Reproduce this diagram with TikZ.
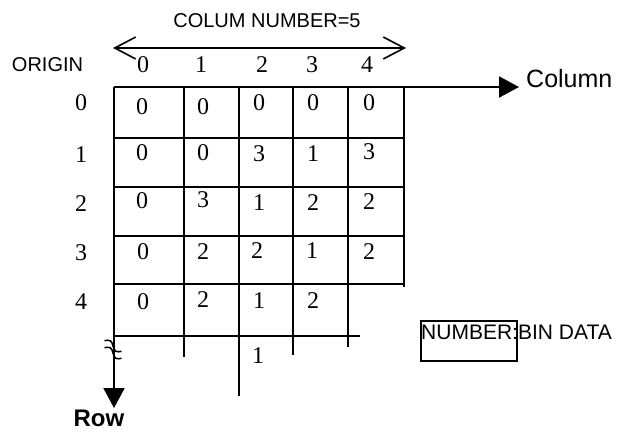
\documentclass[tikz,border=0pt]{standalone}
\usepackage{fontspec}
\setmainfont{Liberation Serif}
\newfontfamily\arialf{Liberation Sans}
\usetikzlibrary{arrows.meta}
\begin{document}
\begin{tikzpicture}[x=1pt,y=-1pt,
  gridline/.style={line width=2pt},
  num/.style={inner sep=0pt,font=\fontsize{24}{26}\selectfont},
  lbl/.style={inner sep=0pt,font=\arialf\fontsize{20}{22}\selectfont},
  biglbl/.style={inner sep=0pt,font=\arialf\fontsize{25}{27}\selectfont},
  axisarrow/.style={line width=2pt,-{Triangle[length=20pt,width=21pt]}},
  spanarrow/.style={line width=1.6pt,{Straight Barb[length=21pt,width=22pt]}-{Straight Barb[length=21pt,width=22pt]}}]
\useasboundingbox (0,0) rectangle (617,432);
% grid coordinates
\coordinate (o) at (114,87);
\coordinate (colend) at (519,87);
\coordinate (rowend) at (114,408);
% top span arrow
\coordinate (sl) at (113,48);
\coordinate (sr) at (406,48);
\draw[spanarrow] (sl) -- (sr);
\node[lbl,anchor=base] (title) at (267,27) {COLUM NUMBER=5};
\node[lbl,anchor=base] (origin) at (47.5,71) {ORIGIN};
% column indices
\foreach \i/\x in {0/143,1/201,2/262,3/312,4/367}
  \node[num,anchor=base] (c\i) at (\x,72) {\i};
% row indices
\foreach \i/\y in {0/103,1/155,2/204,3/253,4/302}
  \node[num] (r\i) at (81,\y) {\i};
% axes
\draw[axisarrow] (o) -- (colend);
\draw[axisarrow] (o) -- (rowend);
\node[biglbl,anchor=base west] (colname) at (526,87) {Column};
\node[biglbl,anchor=base,font=\arialf\bfseries\fontsize{24}{26}\selectfont] (rowname) at (99,426) {Row};
% horizontal grid lines
\foreach \y in {138,187,236,284}
  \draw[gridline] (114,\y) -- (404,\y);
\draw[gridline] (114,336) -- (360,336);
% vertical grid lines
\draw[gridline] (184,87) -- (184,357);
\draw[gridline] (239,87) -- (239,396);
\draw[gridline] (293,87) -- (293,355);
\draw[gridline] (348,87) -- (348,347);
\draw[gridline] (404,87) -- (404,287);
% break mark on row axis
\foreach \dy in {0,7}
  \draw[line width=1.5pt,shift={(113,346+\dy)},rotate=-32]
    (-10,0) sin (-5,-3) cos (0,0) sin (5,3) cos (10,0);
% cell values
\foreach \x/\y/\v [count=\k] in {
  142/107/0,203/107/0,259/103/0,313/103/0,369/103/0,
  142/153/0,203/153/0,259/154/3,313/154/1,369/152/3,
  142/201/0,203/200/3,259/203/1,313/203/2,369/202/2,
  143/252/0,203/252/2,257/251/2,312/251/1,369/252/2,
  143/302/0,203/300/2,259/301/1,313/301/2,
  258/356/1}
  \node[num] (v\k) at (\x,\y) {\v};
% legend
\node[draw,line width=1.8pt,minimum width=96pt,minimum height=40pt,inner sep=0pt] (legbox) at (469,341) {};
\node[lbl,anchor=base west,font=\arialf\fontsize{21}{23}\selectfont] (legtext) at (421,339) {NUMBER:BIN DATA};
\end{tikzpicture}
\end{document}
